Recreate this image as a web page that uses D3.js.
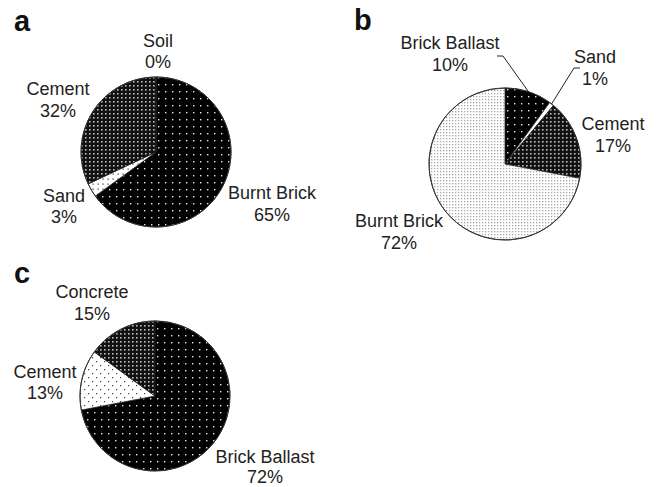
<!DOCTYPE html>
<html><head><meta charset="utf-8">
<script src="https://cdn.jsdelivr.net/npm/d3@7"></script>
<style>html,body{margin:0;padding:0;background:#fff;}svg{display:block;}</style>
</head><body>
<svg id="chart" width="659" height="487"></svg>
<script>
// ---- data ----
const aCategories = ["Burnt Brick", "Sand", "Cement", "Soil"];
const aValues = [65, 3, 32, 0];
const bCategories = ["Brick Ballast", "Sand", "Cement", "Burnt Brick"];
const bValues = [10, 1, 17, 72];
const cCategories = ["Brick Ballast", "Cement", "Concrete"];
const cValues = [72, 13, 15];

// ---- styling / layout ----
const aFills = ["blackDots", "whiteDots", "darkGray", "plainWhite"];
const bFills = ["blackDots", "plainWhite", "darkGray", "lightGray"];
const cFills = ["blackDots", "whiteDotsSparse", "darkGray"];

const panels = [
  {letter: "a", lx: 14, ly: 31, cx: 156, cy: 152, r: 75, cats: aCategories, vals: aValues, fills: aFills,
   labels: [[272, 199, 22], [64, 202, 21], [58, 95, 22], [158, 47, 21]], leaders: null},
  {letter: "b", lx: 354, ly: 30, cx: 505, cy: 164, r: 76, cats: bCategories, vals: bValues, fills: bFills,
   labels: [[450, 49, 22], [595, 63, 22], [613, 130, 22], [399, 227, 22]],
   leaders: [[497, 56, 503, 56], [580, 68, 574, 68], null, null]},
  {letter: "c", lx: 14, ly: 283, cx: 155, cy: 396, r: 75, cats: cCategories, vals: cValues, fills: cFills,
   labels: [[265, 463, 20], [45, 378, 21], [92, 298, 22]], leaders: null}
];

const svg = d3.select("#chart");
const defs = svg.append("defs");

function pat(id, w, h, bg, dots, color, size) {
  const p = defs.append("pattern").attr("id", id).attr("patternUnits", "userSpaceOnUse")
    .attr("width", w).attr("height", h);
  p.append("rect").attr("width", w).attr("height", h).attr("fill", bg);
  dots.forEach(d => p.append("rect").attr("x", d[0]).attr("y", d[1])
    .attr("width", size).attr("height", size).attr("fill", color));
}
pat("blackDots", 7, 7, "#000", [[2, 2]], "#e8e8e8", 1.4);
pat("darkGray", 4, 4, "#111", [[1, 1]], "#bdbdbd", 1.6);
pat("lightGray", 3, 3, "#fff", [[1, 1]], "#a8a8a8", 1.3);
pat("whiteDots", 5, 5, "#fff", [[1.5, 1.5]], "#333", 1.2);
pat("whiteDotsSparse", 8, 8, "#fff", [[1, 1], [5, 5]], "#444", 1.2);
pat("plainWhite", 4, 4, "#fff", [], "#fff", 0);

const pie = d3.pie().sort(null).value(d => d);

panels.forEach(P => {
  const g = svg.append("g");
  g.append("text").attr("x", P.lx).attr("y", P.ly).text(P.letter)
    .attr("font-family", "Liberation Sans, Arial, sans-serif").attr("font-weight", "bold")
    .attr("font-size", 29).attr("fill", "#111");

  const arc = d3.arc().innerRadius(0).outerRadius(P.r);
  const arcs = pie(P.vals);
  const pg = g.append("g").attr("transform", `translate(${P.cx},${P.cy})`);
  pg.selectAll("path").data(arcs).join("path")
    .attr("d", arc)
    .attr("fill", (d, i) => `url(#${P.fills[i]})`)
    .attr("stroke", "#222").attr("stroke-width", 0.8);

  // outline
  pg.append("circle").attr("r", P.r).attr("fill", "none").attr("stroke", "#333").attr("stroke-width", 1);

  // labels
  arcs.forEach((d, i) => {
    const [x, y, gap] = P.labels[i];
    const t = g.append("text").attr("text-anchor", "middle")
      .attr("font-family", "Liberation Sans, Arial, sans-serif").attr("font-size", 18).attr("fill", "#222");
    t.append("tspan").attr("x", x).attr("y", y).text(P.cats[i]);
    t.append("tspan").attr("x", x).attr("dy", gap).text(P.vals[i] + "%");
    if (P.leaders && P.leaders[i]) {
      const L = P.leaders[i];
      const mid = (d.startAngle + d.endAngle) / 2;
      const ex = P.cx + P.r * Math.sin(mid), ey = P.cy - P.r * Math.cos(mid);
      g.append("path").attr("d", `M${L[0]},${L[1]}L${L[2]},${L[3]}L${ex},${ey}`)
        .attr("fill", "none").attr("stroke", "#222").attr("stroke-width", 1);
    }
  });
});
</script>
</body></html>
